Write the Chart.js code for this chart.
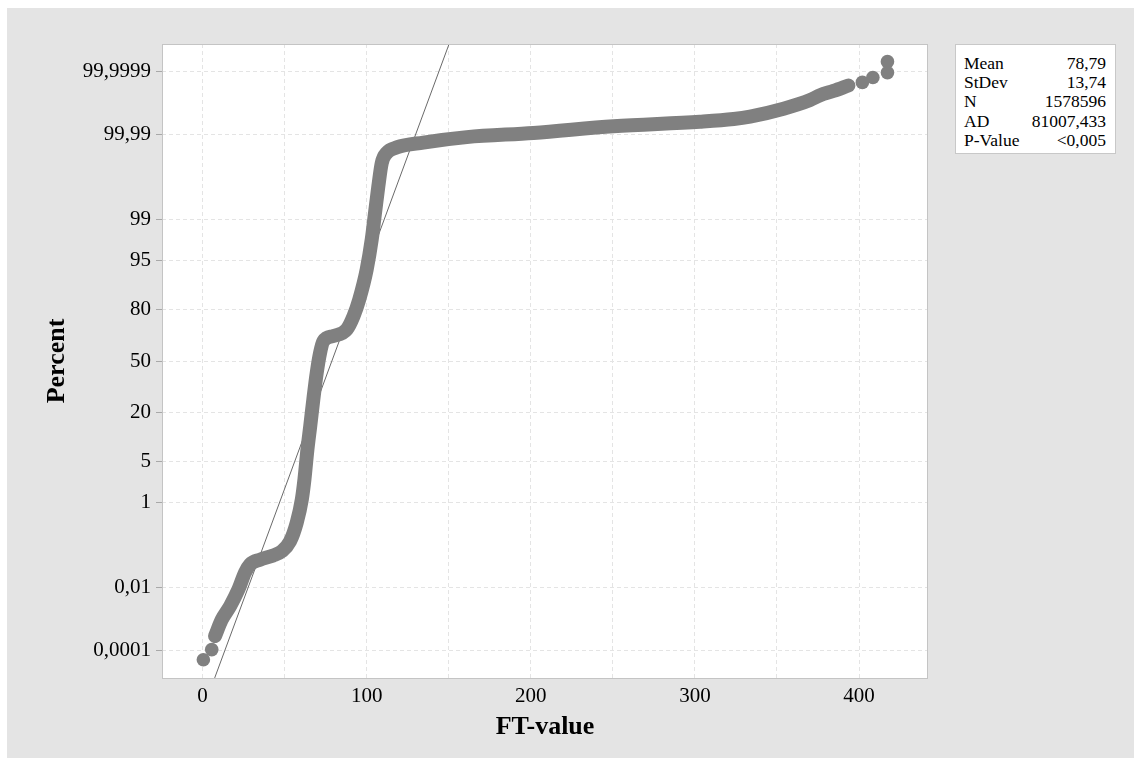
<!DOCTYPE html>
<html>
<head>
<meta charset="utf-8">
<script src="https://cdn.jsdelivr.net/npm/chart.js@4.4.1/dist/chart.umd.min.js"></script>
<style>
    body { margin: 0; background: #ffffff; }
    #wrap { position: relative; width: 1134px; height: 758px; }
    #stats {
        position: absolute; left: 955px; top: 44px; width: 161px; height: 110px;
        box-sizing: border-box; border: 1px solid #c8c8c8; background: #fff;
        padding: 9px 9px 0 8px;
        font-family: "Liberation Serif", "Times New Roman", serif; font-size: 17.5px; line-height: 19.2px; color: #000;
        display: grid; grid-template-columns: auto auto; align-content: start;
    }
    #stats .v { text-align: right; }
</style>
</head>
<body>
<div id="wrap">
    <canvas id="chart" width="1134" height="758"></canvas>
    <div id="stats"></div>
</div>
<script>
// --- DATA ---
// main band of points, FT-value vs cumulative percent
const bandFT = [7.6, 11.7, 16.8, 21.8, 25.9, 28.9, 35, 43.1, 48.3, 53.3, 57.4, 60.5, 62.1, 63.9, 65.6, 67.5, 69.6, 71.6, 73.6, 79.7, 87.9, 92, 95.5, 100, 103.1, 105.1, 107.1, 109.2, 112.2, 118.3, 134.5, 161, 201.6, 250.4, 303, 323.6, 333.6, 354, 370.2, 376.3, 384.4, 393.5];
const bandPct = [0.00032, 0.0011, 0.0029, 0.0088, 0.026, 0.042, 0.056, 0.071, 0.090, 0.154, 0.40, 1.16, 2.62, 7.35, 14.2, 26.4, 42.5, 55.2, 62.7, 65.9, 69.8, 76.9, 84.4, 93.3, 97.7, 99.25, 99.79, 99.942, 99.968, 99.977, 99.983, 99.988, 99.9908, 99.9941, 99.99566, 99.9964, 99.99696, 99.99826, 99.99907, 99.99935, 99.99953, 99.99969];

// isolated points at both ends
const tailFT = [0.5, 5.6, 402, 408.4, 417.3, 417.3];
const tailPct = [0.000048, 0.00011, 99.999756, 99.999834, 99.999888, 99.9999545];

// fitted normal line (ends beyond the plot, clipped)
const fitFT = [7.4, 150.2];
const fitPct = [0.00001, 99.99999];

const xGridTicks = [0, 50, 100, 150, 200, 250, 300, 350, 400];
const xLabelTicks = [0, 100, 200, 300, 400];
const yTickPct = [0.0001, 0.01, 1, 5, 20, 50, 80, 95, 99, 99.99, 99.9999];
const yTickLabels = ['0,0001', '0,01', '1', '5', '20', '50', '80', '95', '99', '99,99', '99,9999'];

const statNames = ['Mean', 'StDev', 'N', 'AD', 'P-Value'];
const statValues = ['78,79', '13,74', '1578596', '81007,433', '<0,005'];

// --- probit (inverse normal CDF, Acklam) ---
function probit(p) {
    const a = [-3.969683028665376e+01, 2.209460984245205e+02, -2.759285104469687e+02, 1.383577518672690e+02, -3.066479806614716e+01, 2.506628277459239e+00];
    const b = [-5.447609879822406e+01, 1.615858368580409e+02, -1.556989798598866e+02, 6.680131188771972e+01, -1.328068155288572e+01];
    const c = [-7.784894002430293e-03, -3.223964580411365e-01, -2.400758277161838e+00, -2.549732539343734e+00, 4.374664141464968e+00, 2.938163982698783e+00];
    const d = [7.784695709041462e-03, 3.224671290700398e-01, 2.445134137142996e+00, 3.754408661907416e+00];
    const pl = 0.02425;
    let q, r;
    if (p < pl) {
        q = Math.sqrt(-2 * Math.log(p));
        return (((((c[0]*q+c[1])*q+c[2])*q+c[3])*q+c[4])*q+c[5]) / ((((d[0]*q+d[1])*q+d[2])*q+d[3])*q+1);
    }
    if (p > 1 - pl) {
        q = Math.sqrt(-2 * Math.log(1 - p));
        return -(((((c[0]*q+c[1])*q+c[2])*q+c[3])*q+c[4])*q+c[5]) / ((((d[0]*q+d[1])*q+d[2])*q+d[3])*q+1);
    }
    q = p - 0.5; r = q * q;
    return (((((a[0]*r+a[1])*r+a[2])*r+a[3])*r+a[4])*r+a[5])*q / (((((b[0]*r+b[1])*r+b[2])*r+b[3])*r+b[4])*r+1);
}

const toPoints = (xs, pcts) => xs.map((x, i) => ({ x: x, y: probit(pcts[i] / 100) }));

// stats box
const statsBox = document.getElementById('stats');
statNames.forEach((n, i) => {
    statsBox.insertAdjacentHTML('beforeend', `<div>${n}</div><div class="v">${statValues[i].replace('<', '&lt;')}</div>`);
});

const SERIF = '"Liberation Serif", "Times New Roman", serif';
const GREY = '#808080';

// panel background, white plot area and its frame
const framePlugin = {
    id: 'frame',
    beforeDraw(chart) {
        const ctx = chart.ctx, a = chart.chartArea;
        ctx.save();
        ctx.fillStyle = '#e4e4e4';
        ctx.fillRect(7, 8, chart.width - 7, chart.height - 8);
        ctx.fillStyle = '#ffffff';
        ctx.fillRect(a.left, a.top, a.right - a.left, a.bottom - a.top);
        ctx.restore();
    },
    afterDraw(chart) {
        const ctx = chart.ctx, a = chart.chartArea;
        ctx.save();
        ctx.strokeStyle = '#c4c4c4';
        ctx.lineWidth = 1;
        ctx.strokeRect(a.left + 0.5, a.top + 0.5, a.right - a.left - 1, a.bottom - a.top);
        ctx.restore();
    }
};

new Chart(document.getElementById('chart'), {
    type: 'scatter',
    data: {
        datasets: [{
            label: 'band',
            data: toPoints(bandFT, bandPct),
            showLine: true,
            borderColor: GREY,
            borderWidth: 14,
            borderCapStyle: 'round',
            borderJoinStyle: 'round',
            cubicInterpolationMode: 'monotone',
            pointRadius: 0,
            order: 1
        }, {
            label: 'tail',
            data: toPoints(tailFT, tailPct),
            backgroundColor: GREY,
            borderWidth: 0,
            pointRadius: 6.8,
            order: 1
        }, {
            label: 'fit',
            data: toPoints(fitFT, fitPct),
            showLine: true,
            borderColor: '#6a6a6a',
            borderWidth: 1,
            pointRadius: 0,
            order: 2
        }]
    },
    options: {
        responsive: false,
        devicePixelRatio: 1,
        animation: false,
        layout: { padding: { left: 0, top: 44, right: 206, bottom: 0 } },
        plugins: { legend: { display: false }, tooltip: { enabled: false } },
        scales: {
            x: {
                type: 'linear',
                min: -24.7,
                max: 442,
                afterBuildTicks: s => { s.ticks = xGridTicks.map(v => ({ value: v })); },
                afterFit: s => { s.height = 80; },
                ticks: {
                    autoSkip: false,
                    maxRotation: 0,
                    padding: 6,
                    color: '#000',
                    font: { family: SERIF, size: 21 },
                    callback: v => xLabelTicks.includes(v) ? String(v) : ''
                },
                grid: { color: '#e4e4e4', drawTicks: false },
                border: { display: false, dash: [4, 3] },
                title: {
                    display: true,
                    text: 'FT-value',
                    color: '#000',
                    font: { family: SERIF, size: 26, weight: 'bold' },
                    padding: { top: 0, bottom: 15 }
                }
            },
            y: {
                type: 'linear',
                min: -5.2,
                max: 5.2,
                afterBuildTicks: s => { s.ticks = yTickPct.map(p => ({ value: probit(p / 100) })); },
                afterFit: s => { s.width = 162; },
                ticks: {
                    autoSkip: false,
                    padding: 5,
                    color: '#000',
                    font: { family: SERIF, size: 21 },
                    callback: (v, i) => yTickLabels[i]
                },
                grid: { color: '#e4e4e4', tickLength: 6, tickColor: '#a8a8a8', tickBorderDash: [] },
                border: { display: false, dash: [4, 3] },
                title: {
                    display: true,
                    text: 'Percent',
                    color: '#000',
                    font: { family: SERIF, size: 26, weight: 'bold' },
                    padding: { top: 42, bottom: 0 }
                }
            }
        }
    },
    plugins: [framePlugin]
});
</script>
</body>
</html>
